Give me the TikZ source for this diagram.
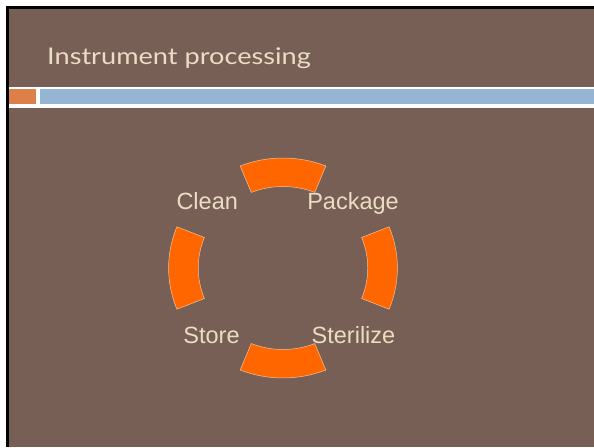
\documentclass[tikz,border=0pt]{standalone}
\usepackage{fontspec}
\setmainfont{Liberation Sans}
\newfontfamily\titlefont[FakeStretch=1.18]{Lato}

\definecolor{slidebrown}{HTML}{775F55}
\definecolor{cream}{HTML}{EBDDC3}
\definecolor{accorange}{HTML}{DD8047}
\definecolor{accblue}{HTML}{94B6D2}
\definecolor{ringorange}{HTML}{FF6600}

\tikzset{
  label text/.style={anchor=base, inner sep=0pt, text=cream,
    font=\fontsize{23.5}{28}\selectfont},
  ring part/.style={fill=ringorange, draw=cream!80!ringorange, line width=0.5pt}
}

\begin{document}
\begin{tikzpicture}[x=1pt,y=1pt]
\useasboundingbox (0,0) rectangle (594,447);
\fill[white] (0,0) rectangle (594,447);
\fill[slidebrown] (7,0) rectangle (594,440);

% rule band under the title
\fill[white] (8,339) rectangle (594,360);
\fill[accorange] (6,343) rectangle (36,358);
\fill[accblue] (40,343) rectangle (594,358);

% slide frame edge
\draw[black, line width=2.6pt] (7.3,0) -- (7.3,439.7) -- (594,439.7);

% title
\node[anchor=base west, inner sep=0pt, text=cream,
      font=\titlefont\fontsize{23}{27}\selectfont] (title) at (47,382) {Instrument processing};

% ring of four segments
\begin{scope}[shift={(283,179)}, xscale=1.04]
  \foreach \c in {90,180,270,0}{
    \path[ring part] (\c-22:110pt) arc[start angle=\c-22, end angle=\c+22, radius=110pt]
      -- (\c+22:81.5pt) arc[start angle=\c+22, end angle=\c-22, radius=81.5pt] -- cycle;
  }
\end{scope}

% step labels
\node[label text] (clean) at (207.2,237.5) {Clean};
\node[label text] (package) at (353,237.5) {Package};
\node[label text] (store) at (211.5,103.5) {Store};
\node[label text] (sterilize) at (353.5,103.5) {Sterilize};
\end{tikzpicture}
\end{document}
